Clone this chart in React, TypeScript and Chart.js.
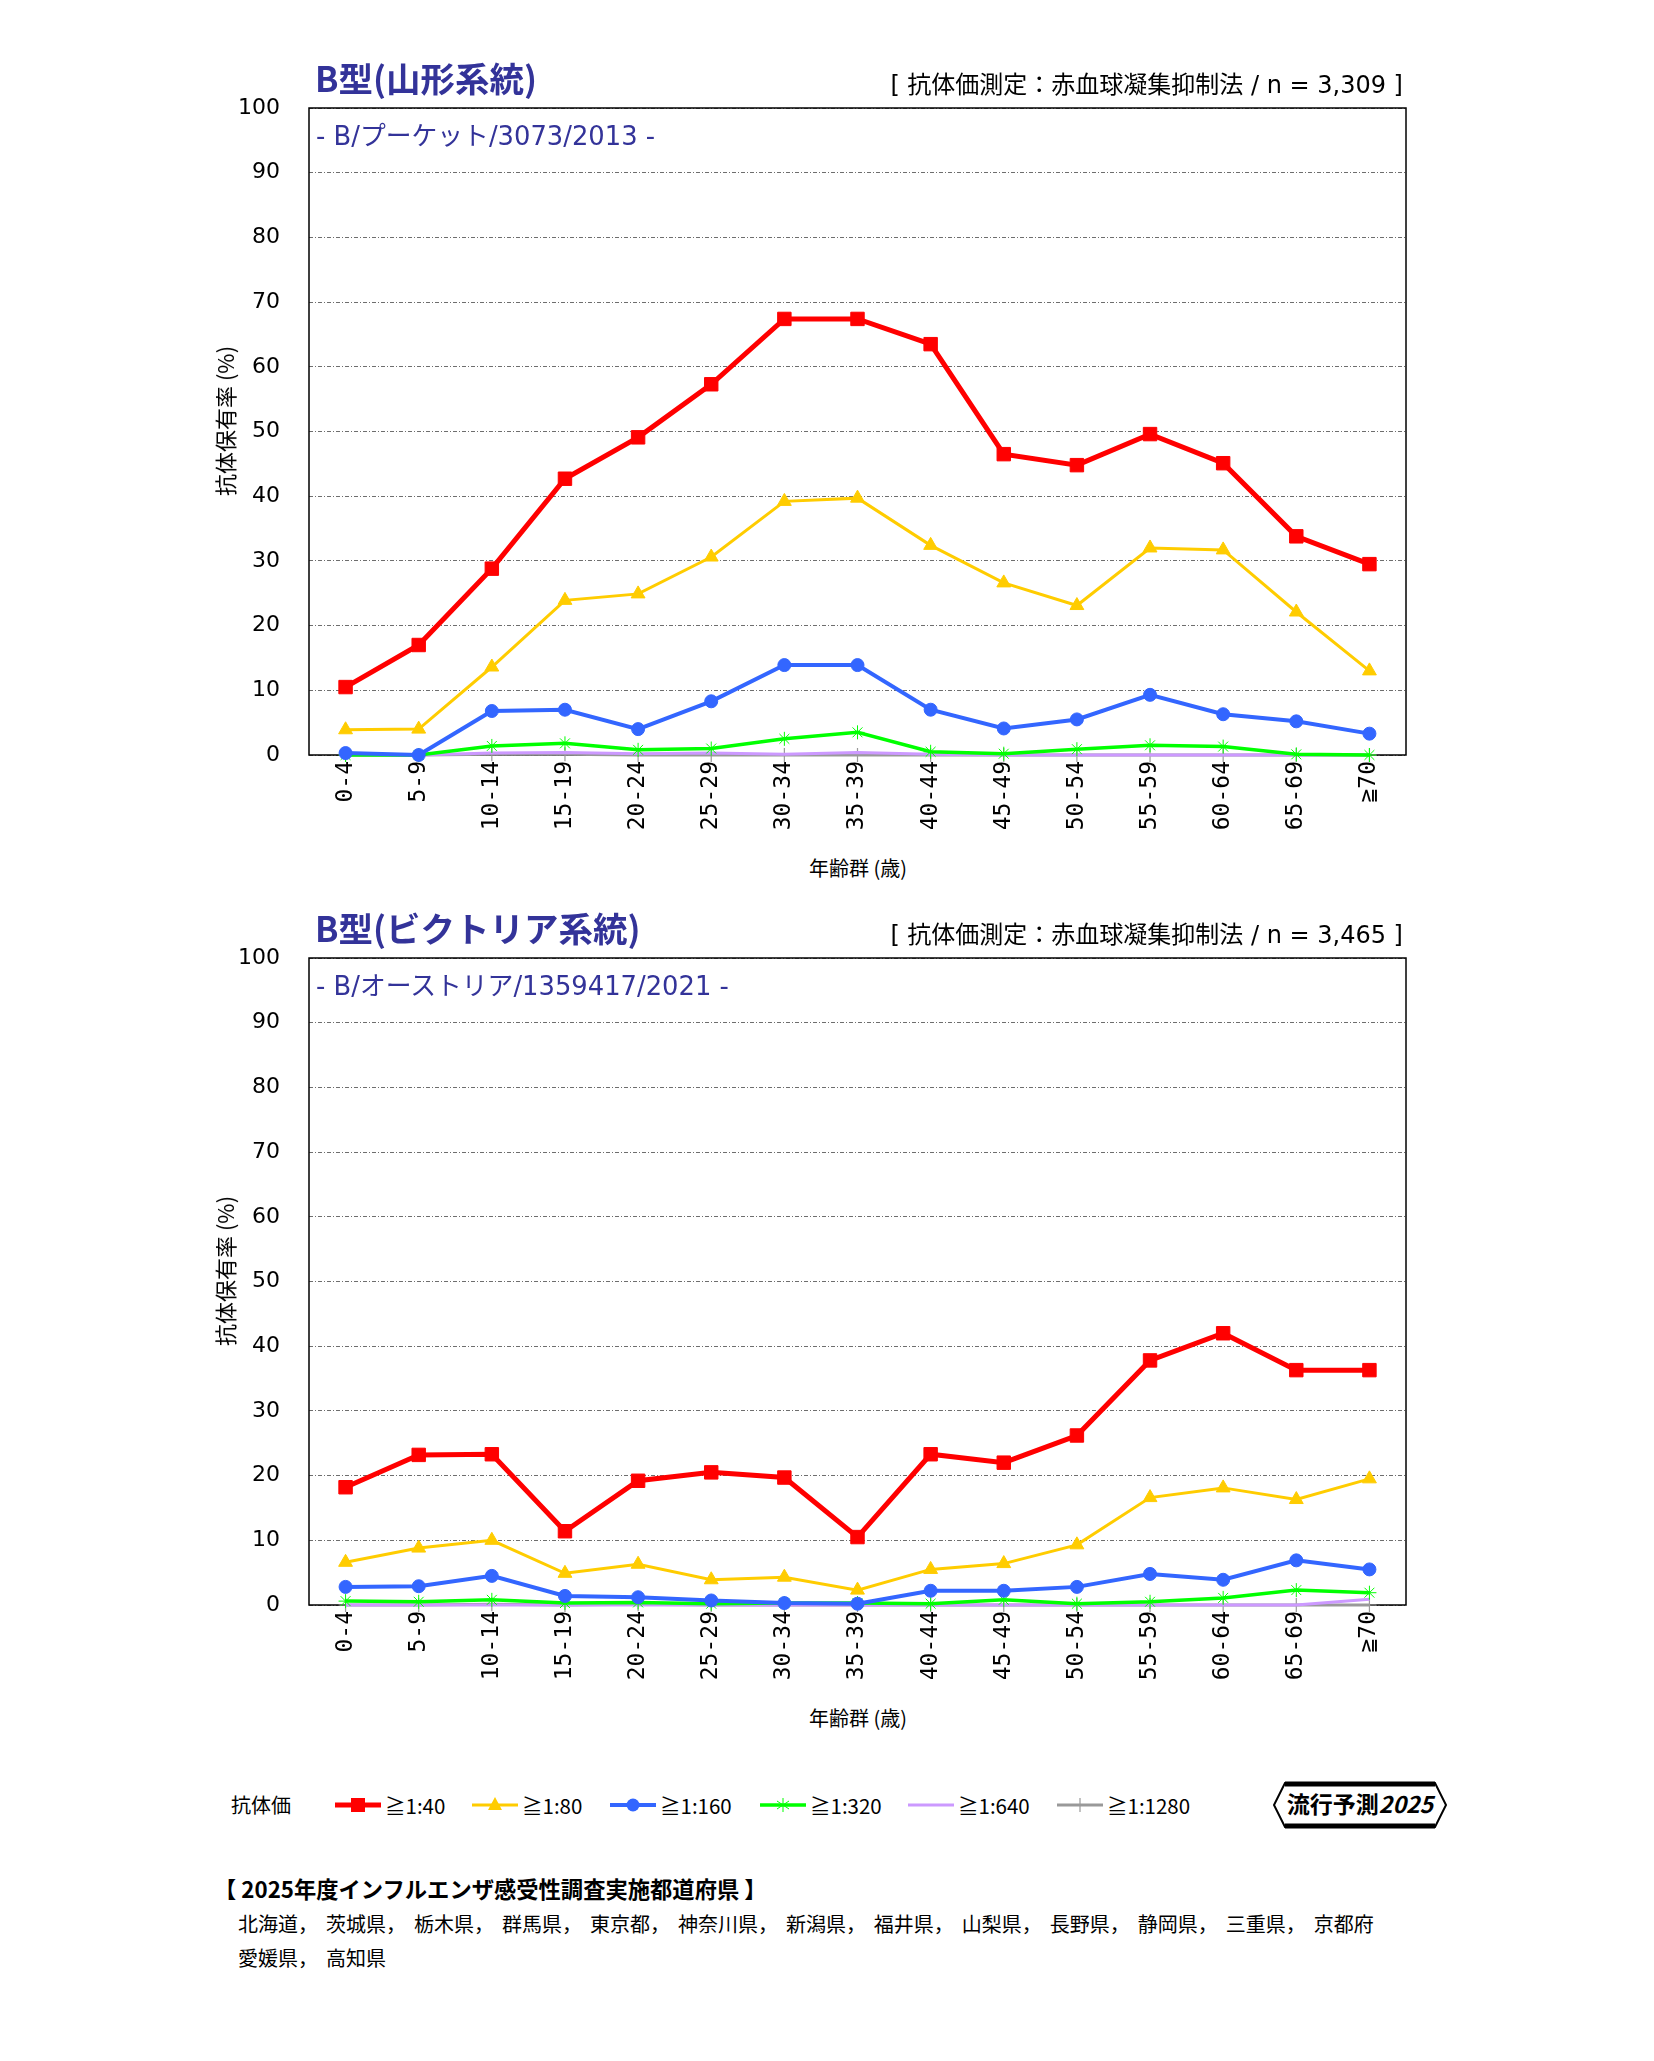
import React, { useEffect, useRef } from 'react';
import { Chart, registerables } from 'chart.js';

Chart.register(...registerables);

// ---------------- DATA ----------------
const AGE_GROUPS = ['0-4', '5-9', '10-14', '15-19', '20-24', '25-29', '30-34', '35-39', '40-44', '45-49', '50-54', '55-59', '60-64', '65-69', '≧70'];
const SERIES_LABELS = ['≧1:40', '≧1:80', '≧1:160', '≧1:320', '≧1:640', '≧1:1280'];
const Y_MIN = 0;
const Y_MAX = 100;
const Y_STEP = 10;

// B型(山形系統)  B/プーケット/3073/2013
const YAM_40 = [10.5, 17.0, 28.8, 42.7, 49.1, 57.3, 67.4, 67.4, 63.5, 46.5, 44.8, 49.6, 45.1, 33.8, 29.5];
const YAM_80 = [3.9, 4.0, 13.6, 23.9, 24.9, 30.6, 39.2, 39.7, 32.4, 26.6, 23.1, 32.0, 31.7, 22.1, 13.0];
const YAM_160 = [0.3, 0, 6.8, 7.0, 4.0, 8.3, 13.9, 13.9, 7.0, 4.1, 5.5, 9.3, 6.3, 5.2, 3.3];
const YAM_320 = [0, 0, 1.4, 1.8, 0.8, 1.0, 2.5, 3.5, 0.5, 0.2, 0.9, 1.5, 1.3, 0.1, 0];
const YAM_640 = [0, 0, 0.3, 0.4, 0.2, 0.3, 0.1, 0.4, 0.1, 0, 0, 0, 0, 0, 0];
const YAM_1280 = [0, 0, 0.1, 0.1, 0, 0, 0, 0, 0, 0, 0, 0, 0, 0, 0];

// B型(ビクトリア系統)  B/オーストリア/1359417/2021
const VIC_40 = [18.2, 23.2, 23.3, 11.4, 19.2, 20.5, 19.7, 10.5, 23.3, 22.0, 26.2, 37.8, 42.0, 36.3, 36.3];
const VIC_80 = [6.6, 8.8, 10.0, 4.9, 6.3, 3.9, 4.3, 2.3, 5.5, 6.4, 9.3, 16.6, 18.1, 16.3, 19.5];
const VIC_160 = [2.8, 2.9, 4.5, 1.4, 1.2, 0.7, 0.3, 0.2, 2.2, 2.2, 2.8, 4.8, 3.9, 6.9, 5.5];
const VIC_320 = [0.6, 0.5, 0.8, 0.3, 0.4, 0.2, 0.3, 0.3, 0.2, 0.8, 0.2, 0.5, 1.1, 2.3, 1.9];
const VIC_640 = [0, 0, 0, 0, 0, 0, 0, 0, 0, 0, 0, 0, 0, 0, 0.9];
const VIC_1280 = [0, 0, 0.1, 0, 0.1, 0, 0, 0, 0, 0, 0, 0, 0, 0, 0];

const PREFECTURES_LINE1 = ['北海道', '茨城県', '栃木県', '群馬県', '東京都', '神奈川県', '新潟県', '福井県', '山梨県', '長野県', '静岡県', '三重県', '京都府'];
const PREFECTURES_LINE2 = ['愛媛県', '高知県'];

// ---------------- STYLE ----------------
const NAVY = '#333399';
const JP = "'Noto Sans CJK JP', 'Noto Sans', sans-serif";
const MIX = "'DejaVu Sans', 'Noto Sans CJK JP', sans-serif";
const NUM = "'DejaVu Sans', sans-serif";

type SeriesStyle = { color: string; width: number; point: any; radius: number; pbw: number };
const STYLES: SeriesStyle[] = [
  { color: '#FF0000', width: 5, point: 'rect', radius: 9.5, pbw: 1 },
  { color: '#FFCC00', width: 3, point: 'triangle', radius: 8, pbw: 1 },
  { color: '#3366FF', width: 4, point: 'circle', radius: 6.5, pbw: 1 },
  { color: '#00FF00', width: 3.5, point: 'star', radius: 7, pbw: 1 },
  { color: '#CC99FF', width: 3, point: false, radius: 0, pbw: 0 },
  { color: '#999999', width: 3, point: 'cross', radius: 7, pbw: 1.2 },
];

const PLOT_LEFT = 309;
const PLOT_RIGHT = 1406;
const PLOT_TOP = 108;
const CANVAS_H = 830;
const PLOT_BOTTOM = 755;
const PAGE_W = 1654;

if (typeof document !== 'undefined') {
  document.body.style.margin = '0';
}

const framePlugin = {
  id: 'frame',
  beforeDatasetsDraw(chart: any) {
    const { ctx, chartArea } = chart;
    const { left, top, right, bottom } = chartArea;
    ctx.save();
    ctx.strokeStyle = '#000';
    ctx.lineWidth = 1.5;
    ctx.strokeRect(left, top, right - left, bottom - top);
    ctx.restore();
  },
};

function LineChart({ series }: { series: number[][] }) {
  const ref = useRef<HTMLCanvasElement | null>(null);
  useEffect(() => {
    if (!ref.current) return;
    const datasets = series.map((data, i) => {
      const s = STYLES[i];
      return {
        label: SERIES_LABELS[i],
        data,
        borderColor: s.color,
        backgroundColor: s.color,
        borderWidth: s.width,
        pointStyle: s.point,
        pointRadius: s.radius,
        pointBorderWidth: s.pbw,
        pointBackgroundColor: s.color,
        pointBorderColor: s.color,
        tension: 0,
        clip: false as any,
      };
    });
    const chart = new Chart(ref.current, {
      type: 'line',
      data: { labels: AGE_GROUPS, datasets },
      plugins: [framePlugin],
      options: {
        animation: false,
        responsive: false,
        devicePixelRatio: 1,
        layout: { padding: { left: 0, right: PAGE_W - PLOT_RIGHT, top: PLOT_TOP, bottom: 0 } },
        plugins: { legend: { display: false }, tooltip: { enabled: false }, title: { display: false } },
        scales: {
          x: {
            type: 'category',
            offset: true,
            grid: { display: false, drawTicks: false },
            border: { display: false },
            ticks: {
              autoSkip: false,
              minRotation: 90,
              maxRotation: 90,
              padding: 6,
              color: '#000',
              font: { family: "'DejaVu Sans Mono', monospace", size: 23 },
            },
            afterFit: (s: any) => {
              s.height = CANVAS_H - PLOT_BOTTOM;
            },
          },
          y: {
            min: Y_MIN,
            max: Y_MAX,
            grid: { color: '#6e6e6e', lineWidth: 1, drawTicks: false },
            border: { display: false, dash: [4, 2, 1, 2] },
            ticks: {
              stepSize: Y_STEP,
              padding: 29,
              color: '#000',
              font: { family: NUM, size: 22 },
            },
            afterFit: (s: any) => {
              s.width = PLOT_LEFT;
            },
          },
        },
      } as any,
    });
    return () => chart.destroy();
  }, [series]);
  return <canvas ref={ref} width={PAGE_W} height={CANVAS_H} style={{ position: 'absolute', left: 0, top: 0, width: PAGE_W, height: CANVAS_H }} />;
}

function ChartBlock({ top, title, strain, n, series }: { top: number; title: string; strain: string; n: string; series: number[][] }) {
  return (
    <div style={{ position: 'absolute', left: 0, top, width: PAGE_W, height: CANVAS_H + 60 }}>
      <LineChart series={series} />
      <div style={{ position: 'absolute', left: 315, top: 57, fontFamily: JP, fontWeight: 700, fontSize: 34.5, lineHeight: '40px', color: NAVY, whiteSpace: 'nowrap' }}>{title}</div>
      <div style={{ position: 'absolute', right: PAGE_W - 1403, top: 70, fontFamily: MIX, fontSize: 24, lineHeight: '30px', color: '#000', whiteSpace: 'pre' }}>{`[ 抗体価測定：赤血球凝集抑制法 / n = ${n} ]`}</div>
      <div style={{ position: 'absolute', left: 316, top: 121, fontFamily: MIX, fontSize: 25.8, lineHeight: '30px', color: NAVY, whiteSpace: 'pre' }}>{`- ${strain} -`}</div>
      <div style={{ position: 'absolute', left: 224, top: 421, width: 0, height: 0 }}>
        <div style={{ position: 'absolute', left: 0, top: 0, transform: 'translate(-50%, -50%) rotate(-90deg)', fontFamily: JP, fontSize: 22, lineHeight: '26px', whiteSpace: 'pre', color: '#000' }}>抗体保有率 (%)</div>
      </div>
      <div style={{ position: 'absolute', left: 858, top: 868, width: 0, height: 0 }}>
        <div style={{ position: 'absolute', left: 0, top: 0, transform: 'translate(-50%, -50%)', fontFamily: JP, fontSize: 20, lineHeight: '24px', whiteSpace: 'pre', color: '#000' }}>年齢群 (歳)</div>
      </div>
    </div>
  );
}

function Marker({ i }: { i: number }) {
  const s = STYLES[i];
  const cx = 23;
  const cy = 10;
  let shape: any = null;
  if (s.point === 'rect') shape = <rect x={cx - 7} y={cy - 7} width={14} height={14} fill={s.color} />;
  else if (s.point === 'triangle') shape = <polygon points={`${cx},${cy - 8} ${cx - 7},${cy + 5} ${cx + 7},${cy + 5}`} fill={s.color} />;
  else if (s.point === 'circle') shape = <circle cx={cx} cy={cy} r={6.5} fill={s.color} />;
  else if (s.point === 'star')
    shape = (
      <g stroke={s.color} strokeWidth={1}>
        <line x1={cx} y1={cy - 7} x2={cx} y2={cy + 7} />
        <line x1={cx - 6} y1={cy - 4} x2={cx + 6} y2={cy + 4} />
        <line x1={cx - 6} y1={cy + 4} x2={cx + 6} y2={cy - 4} />
      </g>
    );
  else if (s.point === 'cross')
    shape = (
      <g stroke={s.color} strokeWidth={1.2}>
        <line x1={cx} y1={cy - 7} x2={cx} y2={cy + 7} />
      </g>
    );
  return (
    <svg width={46} height={20} style={{ display: 'block' }}>
      <line x1={0} y1={cy} x2={46} y2={cy} stroke={s.color} strokeWidth={s.width} />
      {shape}
    </svg>
  );
}

const LEGEND_X = [335, 472, 610, 760, 908, 1057];

function Legend() {
  return (
    <div style={{ position: 'absolute', left: 0, top: 1793, width: PAGE_W, height: 24 }}>
      <div style={{ position: 'absolute', left: 231, top: 0, fontFamily: JP, fontSize: 20, lineHeight: '24px', color: '#000' }}>抗体価</div>
      {SERIES_LABELS.map((lab, i) => (
        <div key={lab} style={{ position: 'absolute', left: LEGEND_X[i], top: 2, display: 'flex', alignItems: 'center' }}>
          <Marker i={i} />
          <span style={{ marginLeft: 4, fontFamily: JP, fontSize: 20.5, lineHeight: '20px', color: '#000', whiteSpace: 'pre' }}>{lab}</span>
        </div>
      ))}
      <svg width={176} height={48} style={{ position: 'absolute', left: 1272, top: -12 }}>
        <polygon points="13,2 163,2 174,24 163,46 13,46 2,24" fill="#fff" stroke="#000" strokeWidth={2} />
        <line x1={13} y1={3} x2={163} y2={3} stroke="#000" strokeWidth={5} />
        <line x1={13} y1={45} x2={163} y2={45} stroke="#000" strokeWidth={5} />
        <text x={88} y={32} textAnchor="middle" fontFamily={JP} fontSize={23} fontWeight={700} fill="#000">
          流行予測<tspan fontStyle="italic">2025</tspan>
        </text>
      </svg>
    </div>
  );
}

function Footer() {
  const sep = '， ';
  return (
    <div style={{ position: 'absolute', left: 0, top: 1874, width: PAGE_W }}>
      <div style={{ position: 'absolute', left: 214, top: -1, fontFamily: JP, fontSize: 22.3, fontWeight: 700, lineHeight: '30px', whiteSpace: 'pre', color: '#000' }}>【 2025年度インフルエンザ感受性調査実施都道府県 】</div>
      <div style={{ position: 'absolute', left: 238, top: 36, fontFamily: JP, fontSize: 20, lineHeight: '28px', whiteSpace: 'pre', wordSpacing: 3.5, color: '#000' }}>{PREFECTURES_LINE1.join(sep)}</div>
      <div style={{ position: 'absolute', left: 238, top: 70, fontFamily: JP, fontSize: 20, lineHeight: '28px', whiteSpace: 'pre', wordSpacing: 3.5, color: '#000' }}>{PREFECTURES_LINE2.join(sep)}</div>
    </div>
  );
}

const YAM_SERIES = [YAM_40, YAM_80, YAM_160, YAM_320, YAM_640, YAM_1280];
const VIC_SERIES = [VIC_40, VIC_80, VIC_160, VIC_320, VIC_640, VIC_1280];

export default function App() {
  return (
    <div style={{ position: 'relative', width: PAGE_W, height: 2061, background: '#fff', overflow: 'hidden' }}>
      <ChartBlock top={0} title="B型(山形系統)" strain="B/プーケット/3073/2013" n="3,309" series={YAM_SERIES} />
      <ChartBlock top={850} title="B型(ビクトリア系統)" strain="B/オーストリア/1359417/2021" n="3,465" series={VIC_SERIES} />
      <Legend />
      <Footer />
    </div>
  );
}
